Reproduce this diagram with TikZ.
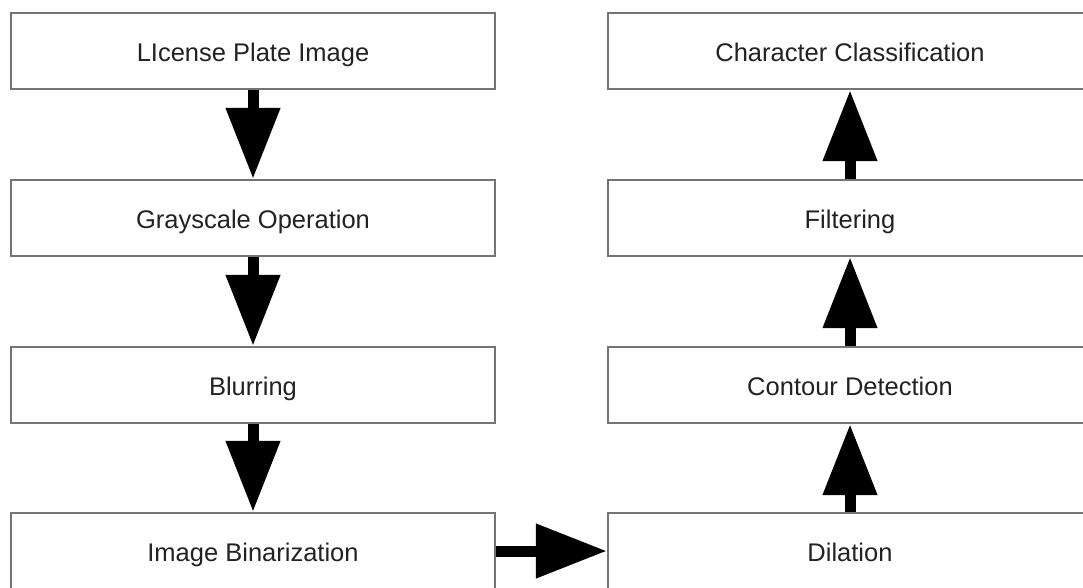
\documentclass[tikz,border=0pt]{standalone}
\usepackage{fontspec}
\setmainfont{Liberation Sans}
\usetikzlibrary{arrows.meta}
\definecolor{boxline}{HTML}{747474}
\definecolor{labeltext}{HTML}{222222}
\tikzset{
  stage/.style={draw=boxline, line width=2.4pt, fill=white, minimum width=484pt,
    minimum height=76pt, inner sep=0pt, text=labeltext,
    text height=21pt, text depth=0pt,
    font=\fontsize{25.5pt}{30pt}\selectfont},
  flow/.style={line width=11pt, draw=black,
    -{Triangle[length=71pt, width=52pt]}, shorten >=0pt}
}
\begin{document}
\begin{tikzpicture}[x=1pt, y=1pt]
  \useasboundingbox (0,0) rectangle (1083,-588);
  \clip (0,0) rectangle (1083,-588);
  % left column
  \node[stage] (lp)  at (253,-51)  {LIcense Plate Image};
  \node[stage] (gs)  at (253,-218) {Grayscale Operation};
  \node[stage] (bl)  at (253,-385) {Blurring};
  \node[stage] (bin) at (253,-551) {Image Binarization};
  % right column
  \node[stage] (cc)  at (850,-51)  {Character Classification};
  \node[stage] (fi)  at (850,-218) {Filtering};
  \node[stage] (cd)  at (850,-385) {Contour Detection};
  \node[stage] (di)  at (850,-551) {Dilation};
  % connectors
  \draw[flow] (lp.south) -- (gs.north);
  \draw[flow] (gs.south) -- (bl.north);
  \draw[flow] (bl.south) -- (bin.north);
  \draw[flow] (bin.east) -- (di.west);
  \draw[flow] (di.north) -- (cd.south);
  \draw[flow] (cd.north) -- (fi.south);
  \draw[flow] (fi.north) -- (cc.south);
\end{tikzpicture}
\end{document}
